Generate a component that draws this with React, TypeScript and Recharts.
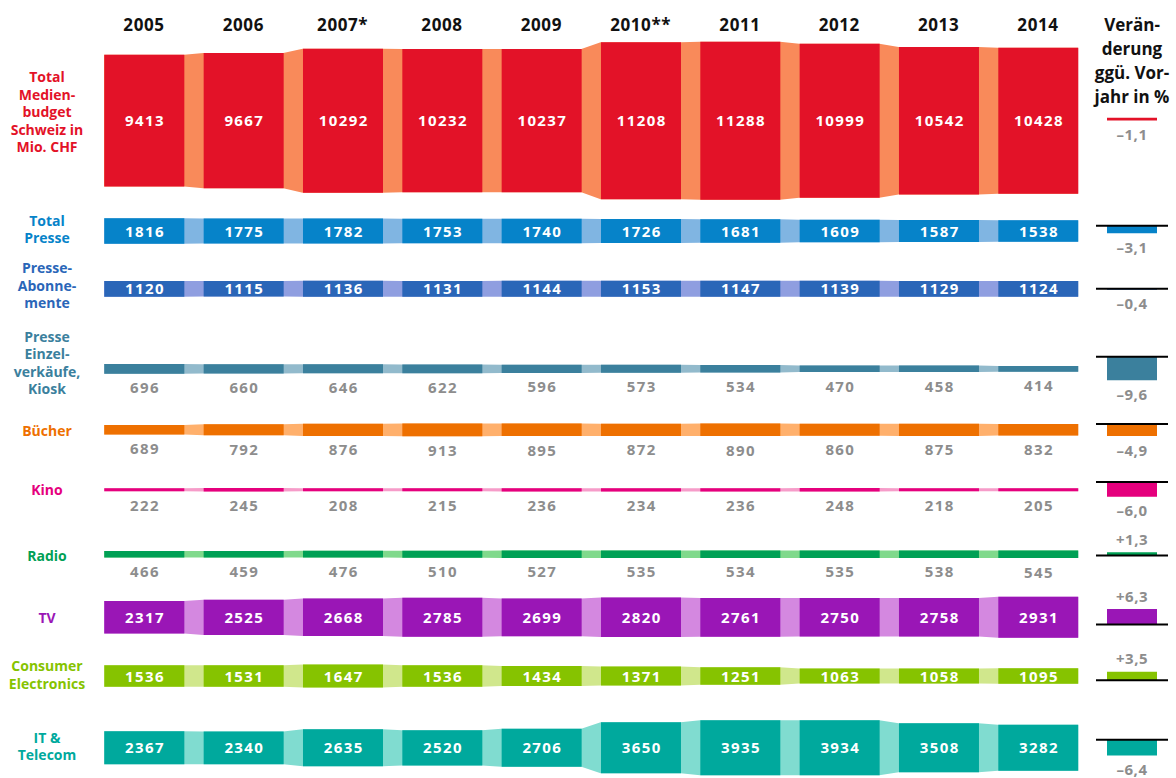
import {
  ComposedChart,
  Bar,
  Area,
  XAxis,
  YAxis,
  LabelList,
  ReferenceLine,
} from 'recharts';

// Medienbudget Schweiz, Mio. CHF
const years = ['2005', '2006', '2007*', '2008', '2009', '2010**', '2011', '2012', '2013', '2014'];

const totalMedienbudget = [9413, 9667, 10292, 10232, 10237, 11208, 11288, 10999, 10542, 10428];
const totalPresse = [1816, 1775, 1782, 1753, 1740, 1726, 1681, 1609, 1587, 1538];
const presseAbonnemente = [1120, 1115, 1136, 1131, 1144, 1153, 1147, 1139, 1129, 1124];
const presseEinzelverkauf = [696, 660, 646, 622, 596, 573, 534, 470, 458, 414];
const buecher = [689, 792, 876, 913, 895, 872, 890, 860, 875, 832];
const kino = [222, 245, 208, 215, 236, 234, 236, 248, 218, 205];
const radio = [466, 459, 476, 510, 527, 535, 534, 535, 538, 545];
const tv = [2317, 2525, 2668, 2785, 2699, 2820, 2761, 2750, 2758, 2931];
const consumerElectronics = [1536, 1531, 1647, 1536, 1434, 1371, 1251, 1063, 1058, 1095];
const itTelecom = [2367, 2340, 2635, 2520, 2706, 3650, 3935, 3934, 3508, 3282];

const changePct = [-1.1, -3.1, -0.4, -9.6, -4.9, -6.0, 1.3, 6.3, 3.5, -6.4];
const changeLabels = ['–1,1', '–3,1', '–0,4', '–9,6', '–4,9', '–6,0', '+1,3', '+6,3', '+3,5', '–6,4'];

const rowNames = [
  ['Total', 'Medien-', 'budget', 'Schweiz in', 'Mio. CHF'],
  ['Total', 'Presse'],
  ['Presse-', 'Abonne-', 'mente'],
  ['Presse', 'Einzel-', 'verkäufe,', 'Kiosk'],
  ['Bücher'],
  ['Kino'],
  ['Radio'],
  ['TV'],
  ['Consumer', 'Electronics'],
  ['IT &', 'Telecom'],
];
const changeHeader = ['Verän-', 'derung', 'ggü. Vor-', 'jahr in %'];

const series = [
  totalMedienbudget, totalPresse, presseAbonnemente, presseEinzelverkauf, buecher,
  kino, radio, tv, consumerElectronics, itTelecom,
];

// layout: pixel rows measured from the top of the chart
const W = 1176;
const H = 778;
const FONT = '"Open Sans", "Noto Sans", sans-serif';
const PX_PER_CHF = 0.014;
const PX_PER_PCT = 2.45;
const COL = 99.33;
const X_DOMAIN: [number, number] = [-144 / COL, (W - 144) / COL];
const HALF = 40 / COL;
const CHANGE_X = (1132 - 144) / COL;
const CHANGE_HALF = 25 / COL;
const LINE_X: [number, number] = [(1096 - 144) / COL, (1168 - 144) / COL];
const GREY = '#8d8d8d';

const rowStyle = [
  { dark: '#e31228', light: '#f98a5a', center: 120.7, label: 112, base: 117.7, inside: true, lh: 17.5, line: false },
  { dark: '#0683c9', light: '#80b5e2', center: 231, label: 229.4, base: 225.7, inside: true, lh: 17.7, line: true },
  { dark: '#2a66b8', light: '#8f9ee0', center: 288.8, label: 285.5, base: 288.7, inside: true, lh: 17.5, line: true },
  { dark: '#3b809d', light: '#92bacc', center: 368.8, label: 363, base: 356.7, inside: false, lh: 17.5, line: true },
  { dark: '#ee7000', light: '#ffb06c', center: 429.8, label: 431, base: 424, inside: false, lh: 17, line: true },
  { dark: '#e5007d', light: '#f69cc9', center: 489.8, label: 490, base: 482, inside: false, lh: 17, line: true },
  { dark: '#00a055', light: '#80d98c', center: 554.2, label: 555.5, base: 555.5, inside: false, lh: 17, line: true },
  { dark: '#9a16b6', light: '#d488e0', center: 617.3, label: 617.7, base: 624.5, inside: true, lh: 17, line: true },
  { dark: '#86c300', light: '#d0e78c', center: 676, label: 675, base: 680.3, inside: true, lh: 17.6, line: true },
  { dark: '#00a99d', light: '#80dcd0', center: 747.8, label: 746.5, base: 739.7, inside: true, lh: 17.4, line: true },
];

const up = (px: number) => H - px;

const spanOf = (r: number, v: number) => {
  const c = up(rowStyle[r].center);
  const h = v * PX_PER_CHF;
  return [c - h / 2, c + h / 2];
};

// one entry per year, one ranged key per row
const table = years.map((year, i) => {
  const entry: Record<string, any> = { x: i, year };
  series.forEach((vals, r) => {
    entry[`r${r}`] = spanOf(r, vals[i]);
  });
  return entry;
});

// connector ribbons: the same span at both edges of each block
const flows = series.map((vals, r) =>
  vals.flatMap((v, i) => {
    const span = spanOf(r, v);
    return [{ x: i - HALF, span }, { x: i + HALF, span }];
  })
);

const changeBars = changePct.map((p, r) => {
  const b = up(rowStyle[r].base);
  const span = [b + Math.min(0, p) * PX_PER_PCT, b + Math.max(0, p) * PX_PER_PCT];
  return [{ x: CHANGE_X - CHANGE_HALF, span }, { x: CHANGE_X + CHANGE_HALF, span }];
});

const renderYearTick = (props: any) => {
  const { x, payload } = props;
  return (
    <text x={x} y={31} textAnchor="middle" fill="#111" fontSize={17} fontWeight={700}
      letterSpacing={0.6} fontFamily={FONT}>
      {years[payload.value]}
    </text>
  );
};

const renderHeaderTick = (props: any) => {
  const { x } = props;
  return (
    <text textAnchor="middle" fill="#111" fontSize={17} fontWeight={700} fontFamily={FONT}>
      {changeHeader.map((t, k) => (
        <tspan key={k} x={x} y={31 + k * 24}>{t}</tspan>
      ))}
    </text>
  );
};

const renderRowTick = (props: any) => {
  const { y, payload } = props;
  let r = 0;
  rowStyle.forEach((s, k) => {
    if (Math.abs(up(s.label) - payload.value) < Math.abs(up(rowStyle[r].label) - payload.value)) r = k;
  });
  const lines = rowNames[r];
  const lh = rowStyle[r].lh;
  const top = y - ((lines.length - 1) * lh) / 2;
  return (
    <text textAnchor="middle" fill={rowStyle[r].dark} fontSize={14} fontWeight={700} fontFamily={FONT}>
      {lines.map((t, k) => (
        <tspan key={k} x={47} y={top + k * lh + 5}>{t}</tspan>
      ))}
    </text>
  );
};

const makeBlockLabel = (r: number) => (props: any) => {
  const vb = props.viewBox ?? props;
  const { x, y, width, height } = vb;
  const v = series[r][props.index];
  if (v == null || x == null) return null;
  const inside = rowStyle[r].inside;
  const top = Math.min(y, y + height);
  const h = Math.abs(height);
  return (
    <text x={x + width / 2 + 0.7} y={inside ? top + h / 2 + 5.5 : top + h + 19.5} textAnchor="middle"
      fill={inside ? '#fff' : GREY} fontSize={15} fontWeight={700} letterSpacing={1.4} fontFamily={FONT}>
      {v}
    </text>
  );
};

const makeChangeLabel = (r: number) => (props: any) => {
  if (props.index !== 0) return null;
  const p = changePct[r];
  const base = rowStyle[r].base;
  const ty = p < 0 ? base - p * PX_PER_PCT + 19.5 : base - p * PX_PER_PCT - 7.5;
  return (
    <text x={props.x + 25} y={ty} textAnchor="middle" fill={GREY} fontSize={15} fontWeight={700}
      letterSpacing={0.5} fontFamily={FONT}>
      {changeLabels[r]}
    </text>
  );
};

export default function App() {
  return (
    <div style={{ position: 'absolute', left: 0, top: 0, fontFamily: FONT }}>
      <ComposedChart width={W} height={H} data={table} margin={{ top: 0, right: 0, bottom: 0, left: 0 }}>
        {series.map((_, r) =>
          r === 0 ? (
            <XAxis key={r} xAxisId="b0" type="number" dataKey="x" domain={X_DOMAIN} allowDataOverflow
              ticks={years.map((_y, i) => i)} interval={0} orientation="top" mirror
              axisLine={false} tickLine={false} tick={renderYearTick} />
          ) : (
            <XAxis key={r} xAxisId={`b${r}`} type="number" dataKey="x" domain={X_DOMAIN}
              allowDataOverflow hide />
          )
        )}
        <XAxis xAxisId="flow" type="number" dataKey="x" domain={X_DOMAIN} allowDataOverflow hide />
        <XAxis xAxisId="chg" type="number" dataKey="x" domain={X_DOMAIN} allowDataOverflow
          ticks={[CHANGE_X]} interval={0} orientation="top" mirror
          axisLine={false} tickLine={false} tick={renderHeaderTick} />
        <YAxis yAxisId="px" type="number" domain={[0, H]} allowDataOverflow
          ticks={rowStyle.map((s) => up(s.label))} interval={0} mirror
          axisLine={false} tickLine={false} tick={renderRowTick} />

        {flows.map((d, r) => (
          <Area key={`f${r}`} xAxisId="flow" yAxisId="px" data={d} dataKey="span" type="linear"
            stroke="none" fill={rowStyle[r].light} fillOpacity={1}
            dot={false} activeDot={false} isAnimationActive={false} />
        ))}

        {series.map((_, r) => (
          <Bar key={`b${r}`} xAxisId={`b${r}`} yAxisId="px" dataKey={`r${r}`} barSize={80}
            fill={rowStyle[r].dark} isAnimationActive={false}>
            <LabelList dataKey={`r${r}`} content={makeBlockLabel(r)} />
          </Bar>
        ))}

        {changeBars.map((d, r) => (
          <Area key={`c${r}`} xAxisId="flow" yAxisId="px" data={d} dataKey="span" type="linear"
            stroke="none" fill={rowStyle[r].dark} fillOpacity={1}
            dot={false} activeDot={false} isAnimationActive={false}>
            <LabelList dataKey="span" content={makeChangeLabel(r)} />
          </Area>
        ))}

        {rowStyle.map((s, r) =>
          s.line ? (
            <ReferenceLine key={`l${r}`} xAxisId="b0" yAxisId="px" stroke="#000" strokeWidth={2}
              segment={[{ x: LINE_X[0], y: up(s.base) }, { x: LINE_X[1], y: up(s.base) }]} />
          ) : null
        )}
      </ComposedChart>
    </div>
  );
}
